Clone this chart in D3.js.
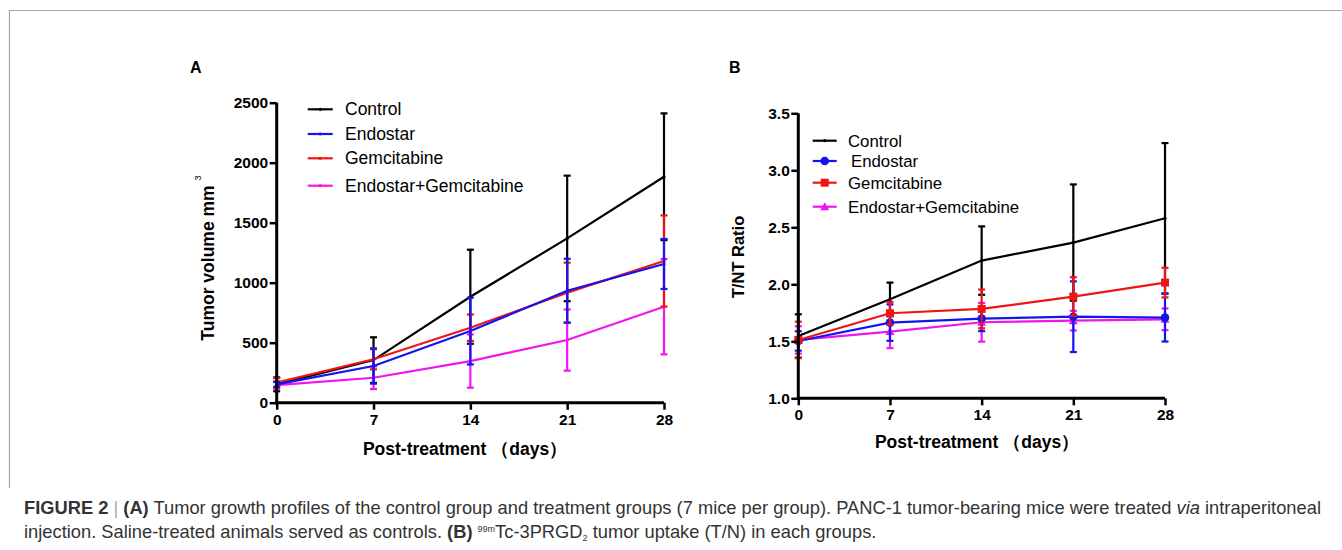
<!DOCTYPE html>
<html><head><meta charset="utf-8">
<script src="https://cdn.jsdelivr.net/npm/d3@7"></script>
<style>
html,body{margin:0;padding:0;background:#fff;}
svg{display:block;}
text{font-family:"Liberation Sans",Arial,sans-serif;}
</style></head>
<body>
<svg id="c" width="1342" height="550"></svg>
<script>
// ---------- DATA ----------
const days = [0, 7, 14, 21, 28];
const seriesNames = ["Control", "Endostar", "Gemcitabine", "Endostar+Gemcitabine"];
const seriesColors = ["#000000", "#1414f0", "#f01414", "#f014f0"];

// Panel A: tumor volume (mm^3), mean and SD
const volControl = [153, 355, 883, 1369, 1883];
const volControlErr = [58, 190, 392, 523, 528];
const volEndostar = [153, 306, 597, 933, 1156];
const volEndostarErr = [20, 147, 278, 266, 208];
const volGem = [167, 362, 625, 917, 1181];
const volGemErr = [38, 84, 110, 250, 380];
const volCombo = [147, 208, 347, 522, 800];
const volComboErr = [30, 94, 222, 255, 397];
const volTicks = [0, 500, 1000, 1500, 2000, 2500];

// Panel B: T/NT ratio, mean and SD
const ratioControl = [1.547, 1.868, 2.208, 2.366, 2.579];
const ratioControlErr = [0.19, 0.147, 0.30, 0.51, 0.66];
const ratioEndostar = [1.503, 1.664, 1.699, 1.716, 1.708];
const ratioEndostarErr = [0.085, 0.16, 0.11, 0.31, 0.21];
const ratioGem = [1.512, 1.746, 1.784, 1.892, 2.015];
const ratioGemErr = [0.16, 0.10, 0.17, 0.17, 0.13];
const ratioCombo = [1.512, 1.585, 1.667, 1.681, 1.693];
const ratioComboErr = [0.12, 0.145, 0.17, 0.086, 0.095];
const ratioTicks = [1.0, 1.5, 2.0, 2.5, 3.0, 3.5];

// ---------- DRAW ----------
const svg = d3.select("#c");

// figure frame
svg.append("path").attr("d", "M9.5,488 L9.5,10.5 L1342,10.5")
  .attr("fill", "none").attr("stroke", "#a6a6a6").attr("stroke-width", 1.2);

function panel(cfg) {
  const g = svg.append("g");
  const x = d3.scaleLinear().domain([0, 28]).range(cfg.xr);
  const y = d3.scaleLinear().domain(cfg.yd).range(cfg.yr);

  const series = cfg.series;
  cfg.order.forEach(i => {
    const s = series[i];
    const col = seriesColors[i];
    const sg = g.append("g");
    days.forEach((d, k) => {
      const cx = x(d), hi = y(s.v[k] + s.e[k]), lo = y(s.v[k] - s.e[k]);
      sg.append("line").attr("x1", cx).attr("x2", cx).attr("y1", hi).attr("y2", lo)
        .attr("stroke", col).attr("stroke-width", 2.2);
      [hi, lo].forEach(yy => sg.append("line").attr("x1", cx - 3.5).attr("x2", cx + 3.5)
        .attr("y1", yy).attr("y2", yy).attr("stroke", col).attr("stroke-width", 2.2));
    });
    sg.append("path").datum(days.map((d, k) => [d, s.v[k]]))
      .attr("d", d3.line().x(p => x(p[0])).y(p => y(p[1])))
      .attr("fill", "none").attr("stroke", col).attr("stroke-width", 2.2);
    days.forEach((d, k) => drawMarker(sg, cfg.markers[i], x(d), y(s.v[k]), col));
  });

  // axes
  const ax = g.append("g").attr("transform", `translate(0,${cfg.yr[0]})`)
    .call(d3.axisBottom(x).tickValues(days).tickSize(7).tickSizeOuter(0).tickPadding(4));
  const ay = g.append("g").attr("transform", `translate(${cfg.xr[0]},0)`)
    .call(d3.axisLeft(y).tickValues(cfg.ticks).tickFormat(cfg.fmt).tickSize(7).tickSizeOuter(0).tickPadding(1.5));
  [ax, ay].forEach(a => {
    a.select(".domain").attr("stroke", "#000").attr("stroke-width", 3);
    a.selectAll(".tick line").attr("stroke", "#000").attr("stroke-width", 2.5);
    a.selectAll(".tick text").attr("fill", "#000").style("font-size", "15.5px").style("font-weight", "bold")
      .style("font-family", '"Liberation Sans",Arial,sans-serif');
  });
  ax.select(".domain").attr("d", `M${cfg.xr[0] - 1.5},0H${cfg.xr[1]}`);
  ay.select(".domain").attr("d", `M0,${cfg.yr[1]}V${cfg.yr[0] + 1.5}`);

  // panel letter
  g.append("text").attr("x", cfg.letterX).attr("y", 73).text(cfg.letter)
    .style("font-size", "16px").style("font-weight", "bold");

  // x title
  g.append("text").attr("x", cfg.xTitleX).attr("y", cfg.xTitleY).attr("text-anchor", "middle")
    .style("font-size", "17.5px").style("font-weight", "bold")
    .text("Post-treatment （days）");

  // y title
  const yt = g.append("text").attr("transform", `translate(${cfg.yTitleX},${cfg.yTitleY}) rotate(-90)`)
    .attr("text-anchor", "middle").style("font-size", cfg.yTitleFont + "px").style("font-weight", "bold");
  yt.append("tspan").text(cfg.yTitle);
  if (cfg.sup) yt.append("tspan").attr("dx", 5).attr("dy", -13).style("font-size", "9px").style("font-weight", "normal").text(cfg.sup);

  // legend
  const lg = g.append("g");
  seriesNames.forEach((n, i) => {
    const yy = cfg.legY[i];
    lg.append("line").attr("x1", cfg.legX[0]).attr("x2", cfg.legX[1]).attr("y1", yy).attr("y2", yy)
      .attr("stroke", seriesColors[i]).attr("stroke-width", 2.2);
    drawMarker(lg, cfg.markers[i], (cfg.legX[0] + cfg.legX[1]) / 2, yy, seriesColors[i]);
    lg.append("text").attr("x", cfg.legTextX + (cfg.legPad[i] || 0)).attr("y", yy).attr("dy", "0.35em")
      .style("font-size", cfg.legFont + "px").text(n);
  });
}

function drawMarker(g, type, cx, cy, col) {
  if (type === "dot") g.append("circle").attr("cx", cx).attr("cy", cy).attr("r", 1.6).attr("fill", col);
  else if (type === "circle") g.append("circle").attr("cx", cx).attr("cy", cy).attr("r", 4.3).attr("fill", col);
  else if (type === "square") g.append("rect").attr("x", cx - 4).attr("y", cy - 4).attr("width", 8).attr("height", 8).attr("fill", col);
  else if (type === "tri") g.append("path").attr("d", `M${cx},${cy - 4.5}L${cx + 4.5},${cy + 3.5}L${cx - 4.5},${cy + 3.5}Z`).attr("fill", col);
}

panel({
  xr: [276.7, 664], yd: [0, 2500], yr: [402.7, 102.7], ticks: volTicks, fmt: d3.format("d"),
  series: [
    { v: volControl, e: volControlErr }, { v: volEndostar, e: volEndostarErr },
    { v: volGem, e: volGemErr }, { v: volCombo, e: volComboErr }],
  order: [0, 3, 2, 1], markers: ["dot", "dot", "dot", "dot"],
  letter: "A", letterX: 190, xTitleX: 465, xTitleY: 455,
  yTitle: "Tumor volume mm", sup: "3", yTitleX: 214, yTitleY: 258, yTitleFont: 17.5,
  legX: [307.7, 332.7], legTextX: 345, legY: [109.3, 134, 158.3, 185.7], legFont: 17.5, legPad: []
});

panel({
  xr: [798.3, 1165], yd: [1.0, 3.5], yr: [398.3, 113.3], ticks: ratioTicks, fmt: d3.format(".1f"),
  series: [
    { v: ratioControl, e: ratioControlErr }, { v: ratioEndostar, e: ratioEndostarErr },
    { v: ratioGem, e: ratioGemErr }, { v: ratioCombo, e: ratioComboErr }],
  order: [0, 3, 1, 2], markers: ["dot", "circle", "square", "tri"],
  letter: "B", letterX: 729, xTitleX: 977, xTitleY: 448,
  yTitle: "T/NT Ratio", sup: null, yTitleX: 744, yTitleY: 257, yTitleFont: 16.5,
  legX: [812.7, 836.7], legTextX: 848, legY: [140.7, 161, 182.7, 206.7], legFont: 16.8, legPad: [0, 3, 0, 0]
});

// ---------- CAPTION ----------
const cap = svg.append("g").style("fill", "#333");
const l1 = cap.append("text").attr("x", 24).attr("y", 514).style("font-size", "14px");
l1.append("tspan").style("font-weight", "bold").text("FIGURE 2");
l1.append("tspan").style("fill", "#aaa").text(" | ");
l1.append("tspan").style("font-weight", "bold").text(" (A)");
l1.append("tspan").text(" Tumor growth profiles of the control group and treatment groups (7 mice per group). PANC-1 tumor-bearing mice were treated ");
l1.append("tspan").style("font-style", "italic").text("via");
l1.append("tspan").text(" intraperitoneal");

const l2 = cap.append("text").attr("x", 24).attr("y", 538).style("font-size", "14px");
l2.append("tspan").text("injection. Saline-treated animals served as controls. ");
l2.append("tspan").style("font-weight", "bold").text("(B)");
l2.append("tspan").text(" ");
l2.append("tspan").attr("dy", -6).style("font-size", "9px").text("99m");
l2.append("tspan").attr("dy", 6).text("Tc-3PRGD");
l2.append("tspan").attr("dy", 3).style("font-size", "9px").text("2");
l2.append("tspan").attr("dy", -3).text(" tumor uptake (T/N) in each groups.");

// fit caption line 1 width to reference (~1298px)
const w1 = l1.node().getComputedTextLength();
const fs = 14 * 1298 / w1;
l1.style("font-size", fs + "px");
l2.style("font-size", fs + "px");
</script>
</body></html>
